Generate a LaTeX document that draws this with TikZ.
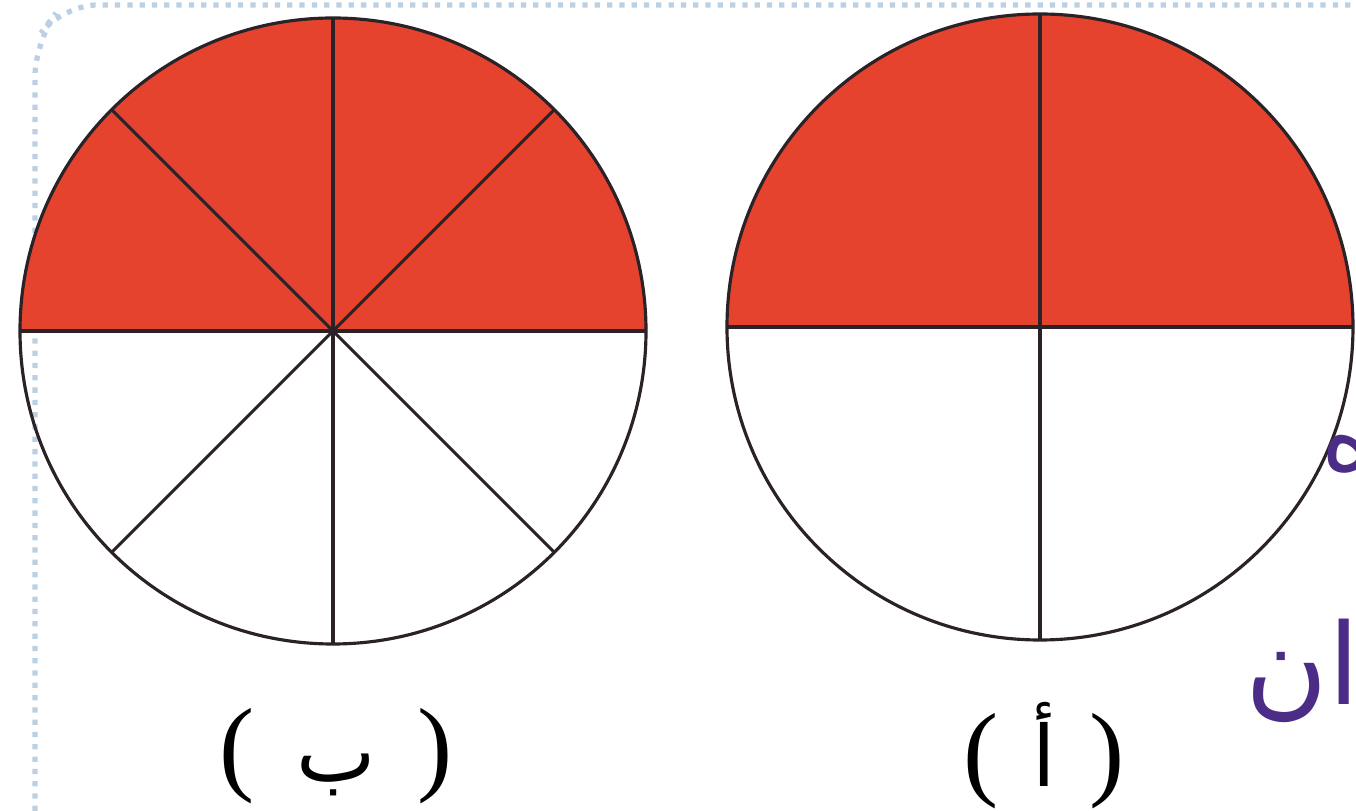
\documentclass[tikz,border=0pt]{standalone}
\usepackage{fontspec}
\newfontfamily\arabicfont[Script=Arabic]{DejaVu Sans}
\newfontfamily\parenfont{Liberation Serif}
\TeXXeTstate=1
\usetikzlibrary{positioning}
\definecolor{halfred}{HTML}{E6432F}
\definecolor{rim}{HTML}{2A2226}
\definecolor{pageblue}{HTML}{BCD0E4}
\definecolor{inkpurple}{HTML}{4B2C86}
\newcommand{\lparen}{{\parenfont\fontsize{30}{34}\selectfont(}}
\newcommand{\rparen}{{\parenfont\fontsize{30}{34}\selectfont)}}

\begin{document}
\begin{tikzpicture}[every node/.style={font=\fontsize{24}{28}\selectfont,inner sep=0pt}]
\useasboundingbox (0,0) rectangle (13.56,8.11);
\clip (0,0) rectangle (13.56,8.11);
\draw[pageblue,dotted,line width=1.5pt,rounded corners=10pt] (0.35,0) -- (0.35,7.7) -- (0.62,8.06) -- (13.56,8.06);
\coordinate (b) at (3.33,4.80);
\coordinate (a) at (10.40,4.84);
% circle (b): eighths
\fill[halfred] (b) ++(3.13,0) arc[start angle=0,end angle=180,radius=3.13] -- cycle;
\foreach \ang in {0,45,...,315}{\draw[rim,line width=0.9pt] (b) -- ++(\ang:3.13);}
\draw[rim,line width=0.9pt] (b) circle[radius=3.13];
% circle (a): quarters
\fill[halfred] (a) ++(3.13,0) arc[start angle=0,end angle=180,radius=3.13] -- cycle;
\foreach \ang in {0,90,180,270}{\draw[rim,line width=0.9pt] (a) -- ++(\ang:3.13);}
\draw[rim,line width=0.9pt] (a) circle[radius=3.13];
\node (labb) at (3.36,0.55) {\lparen\hspace{0.42cm}{\arabicfont\beginR ب\endR}\hspace{0.42cm}\rparen};
\node (laba) at (10.44,0.55) {\lparen\hspace{0.34cm}{\arabicfont\beginR أ\endR}\hspace{0.34cm}\rparen};
% cut-off words at the right edge
\node[anchor=base west,text=inkpurple,font=\fontsize{32}{36}\selectfont] (frag) at (12.45,1.06) {\arabicfont\beginR ان\endR};
\node[anchor=base west,text=inkpurple,font=\fontsize{28}{32}\selectfont] (fragup) at (13.21,3.40) {\arabicfont\beginR ه\endR};
\end{tikzpicture}
\end{document}
